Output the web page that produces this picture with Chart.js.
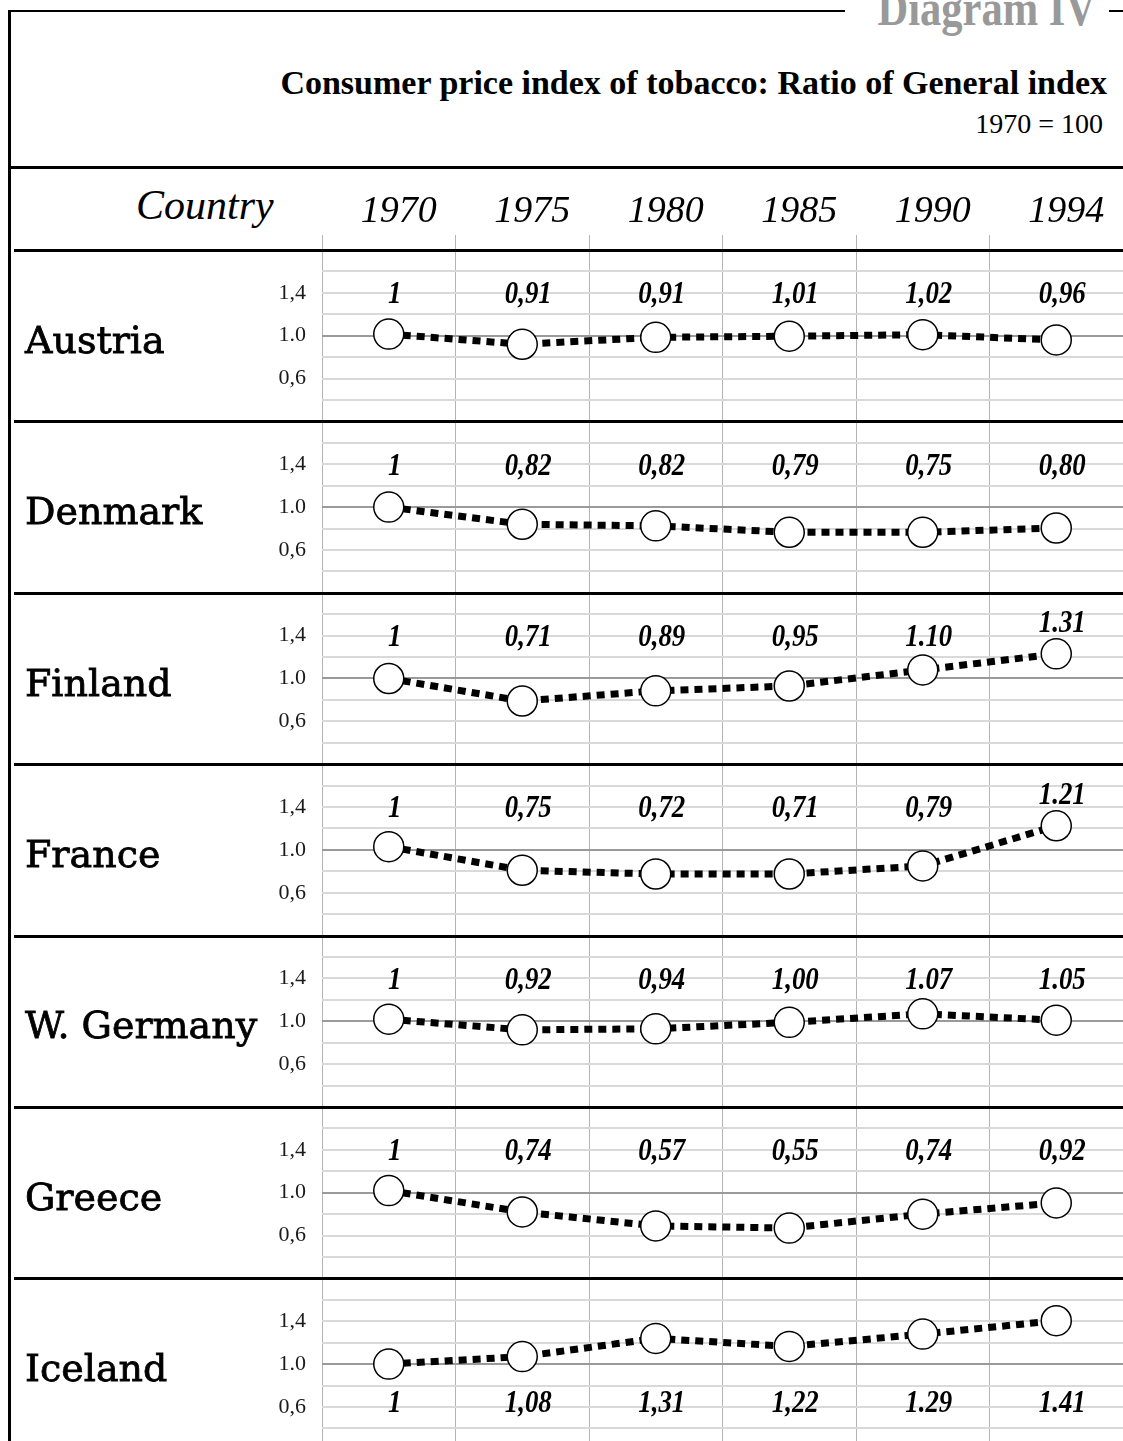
<!DOCTYPE html>
<html>
<head>
<meta charset="utf-8">
<script src="https://cdn.jsdelivr.net/npm/chart.js@4.4.1/dist/chart.umd.min.js"></script>
<style>
  html, body { margin: 0; padding: 0; background: #fff; }
  body { width: 1123px; height: 1441px; overflow: hidden; position: relative; font-family: 'Liberation Serif', serif; }
  .rule { position: absolute; background: #000; }
  .txt { position: absolute; line-height: 1; white-space: nowrap; color: #000; }
  #wrap { position: absolute; left: 0; top: 190px; }
</style>
</head>
<body>
<!-- frame -->
<div class="rule" style="left:8px;top:10px;width:3px;height:1431px"></div>
<div class="rule" style="left:8px;top:10px;width:837px;height:2px"></div>
<div class="rule" style="left:1109px;top:10px;width:14px;height:2px"></div>
<div class="rule" style="left:11px;top:166px;width:1112px;height:3px"></div>

<div class="txt" style="right:27px;top:-17px;font-size:50px;font-weight:bold;color:#999;transform:scaleX(0.85);transform-origin:right top;">Diagram IV</div>
<div class="txt" style="right:16px;top:66px;font-size:34px;font-weight:bold;">Consumer price index of tobacco: Ratio of General index</div>
<div class="txt" style="right:20px;top:110px;font-size:28px;">1970 = 100</div>
<div class="txt" style="left:136px;top:184px;font-size:42px;font-style:italic;">Country</div>

<div id="wrap"><canvas id="chart" width="1123" height="1289"></canvas></div>

<script>
// == 데이터 == //
const YEARS = ['1970', '1975', '1980', '1985', '1990', '1994'];
const COUNTRIES = ['Austria', 'Denmark', 'Finland', 'France', 'W. Germany', 'Greece', 'Iceland'];

// marker heights as drawn
const AUSTRIA = [1.015, 0.92, 0.985, 0.995, 1.01, 0.96];
const DENMARK = [1.0, 0.84, 0.825, 0.765, 0.765, 0.805];
const FINLAND = [1.0, 0.79, 0.885, 0.93, 1.08, 1.23];
const FRANCE = [1.03, 0.81, 0.775, 0.775, 0.85, 1.225];
const W_GERMANY = [1.02, 0.92, 0.93, 0.99, 1.07, 1.01];
const GREECE = [1.02, 0.82, 0.69, 0.67, 0.80, 0.905];
const ICELAND = [1.0, 1.07, 1.24, 1.165, 1.28, 1.405];

// printed values
const AUSTRIA_TXT = ['1', '0,91', '0,91', '1,01', '1,02', '0,96'];
const DENMARK_TXT = ['1', '0,82', '0,82', '0,79', '0,75', '0,80'];
const FINLAND_TXT = ['1', '0,71', '0,89', '0,95', '1.10', '1.31'];
const FRANCE_TXT = ['1', '0,75', '0,72', '0,71', '0,79', '1.21'];
const W_GERMANY_TXT = ['1', '0,92', '0,94', '1,00', '1.07', '1.05'];
const GREECE_TXT = ['1', '0,74', '0,57', '0,55', '0,74', '0,92'];
const ICELAND_TXT = ['1', '1,08', '1,31', '1,22', '1.29', '1.41'];

const Y_TICK_VALUES = [1.4, 1.0, 0.6];
const Y_TICK_LABELS = ['1,4', '1.0', '0,6'];

const SERIES = [AUSTRIA, DENMARK, FINLAND, FRANCE, W_GERMANY, GREECE, ICELAND];
const SERIES_TXT = [AUSTRIA_TXT, DENMARK_TXT, FINLAND_TXT, FRANCE_TXT, W_GERMANY_TXT, GREECE_TXT, ICELAND_TXT];

const SERIF = 'Liberation Serif';
const near = (a, b) => Math.abs(a - b) < 1e-6;

// == 축 == //
const scales = {
  x: {
    type: 'category',
    position: 'top',
    offset: true,
    grid: {
      offset: true,
      color: (c) => (c.tick ? '#b3b3b3' : 'rgba(0,0,0,0)'),
      tickColor: (c) => (c.tick ? '#b3b3b3' : 'rgba(0,0,0,0)'),
      lineWidth: 1,
      tickLength: 15,
    },
    border: { display: false },
    ticks: {
      color: '#000',
      font: { family: SERIF, size: 38, style: 'italic' },
      padding: 0,
      labelOffset: 10,
      maxRotation: 0,
      autoSkip: false,
    },
    afterFit: (s) => { s.height = 60; },
  },
};

// stacked left axes are laid out last-added on top, so add them bottom-up
for (let i = COUNTRIES.length - 1; i >= 0; i--) {
  scales['y' + i] = {
    type: 'linear',
    position: 'left',
    stack: 'rows',
    stackWeight: 1,
    min: 0.2,
    max: 1.8,
    border: { display: false },
    grid: {
      drawTicks: false,
      color: (c) => {
        if (!c.tick) return 'rgba(0,0,0,0)';
        const v = c.tick.value;
        if (near(v, 0.2) || near(v, 1.8)) return 'rgba(0,0,0,0)';
        return near(v, 1.0) ? '#9a9a9a' : '#d9d9d9';
      },
      lineWidth: 2,
    },
    ticks: {
      stepSize: 0.2,
      autoSkip: false,
      padding: 16,
      color: '#1a1a1a',
      font: { family: SERIF, size: 22 },
      callback: (v) => {
        const k = Y_TICK_VALUES.findIndex((t) => near(t, v));
        return k < 0 ? '' : Y_TICK_LABELS[k];
      },
    },
    afterFit: (s) => { s.width = 322; },
  };
}

const datasets = SERIES.map((vals, i) => ({
  label: COUNTRIES[i],
  data: vals,
  yAxisID: 'y' + i,
  borderColor: '#000',
  borderWidth: 7,
  borderDash: [8, 6],
  tension: 0,
  fill: false,
  pointRadius: 15,
  pointHoverRadius: 15,
  pointBackgroundColor: '#fff',
  pointBorderColor: '#000',
  pointBorderWidth: 1.5,
}));

// == 값 라벨 == //
const valueLabels = {
  id: 'valueLabels',
  afterDatasetsDraw(chart) {
    const ctx = chart.ctx;
    const xs = chart.scales.x;
    ctx.save();
    ctx.font = 'italic bold 32px "' + SERIF + '"';
    ctx.fillStyle = '#000';
    ctx.textAlign = 'center';
    ctx.textBaseline = 'middle';
    SERIES.forEach((vals, i) => {
      const ys = chart.scales['y' + i];
      const below = Math.max(...vals) > 1.3;
      vals.forEach((v, j) => {
        const lvl = below ? 0.63 : Math.max(1.38, v + 0.28);
        ctx.save();
        ctx.translate(xs.getPixelForValue(j) + 6, ys.getPixelForValue(lvl));
        ctx.scale(0.84, 1);
        ctx.fillText(SERIES_TXT[i][j], 0, 0);
        ctx.restore();
      });
    });
    ctx.restore();
  },
};

// == 국가명 / 구분선 == //
const panelDecor = {
  id: 'panelDecor',
  afterDraw(chart) {
    const ctx = chart.ctx;
    ctx.save();
    ctx.font = '38px "DejaVu Serif"';
    ctx.fillStyle = '#000';
    ctx.strokeStyle = '#000';
    ctx.textAlign = 'left';
    ctx.textBaseline = 'alphabetic';
    COUNTRIES.forEach((name, i) => {
      const ys = chart.scales['y' + i];
      const by = ys.getPixelForValue(1.0) + 17;
      ctx.lineWidth = 0.8;
      ctx.fillText(name, 25, by);
      ctx.strokeText(name, 25, by);
      ctx.beginPath();
      ctx.lineWidth = 3;
      ctx.moveTo(14, Math.round(ys.top) + 0.5);
      ctx.lineTo(1123, Math.round(ys.top) + 0.5);
      ctx.stroke();
    });
    ctx.restore();
  },
};

new Chart(document.getElementById('chart'), {
  type: 'line',
  data: { labels: YEARS, datasets: datasets },
  options: {
    responsive: false,
    animation: false,
    devicePixelRatio: 1,
    layout: { padding: 0, autoPadding: false },
    scales: scales,
    plugins: {
      legend: { display: false },
      tooltip: { enabled: false },
    },
  },
  plugins: [valueLabels, panelDecor],
});
</script>
</body>
</html>
